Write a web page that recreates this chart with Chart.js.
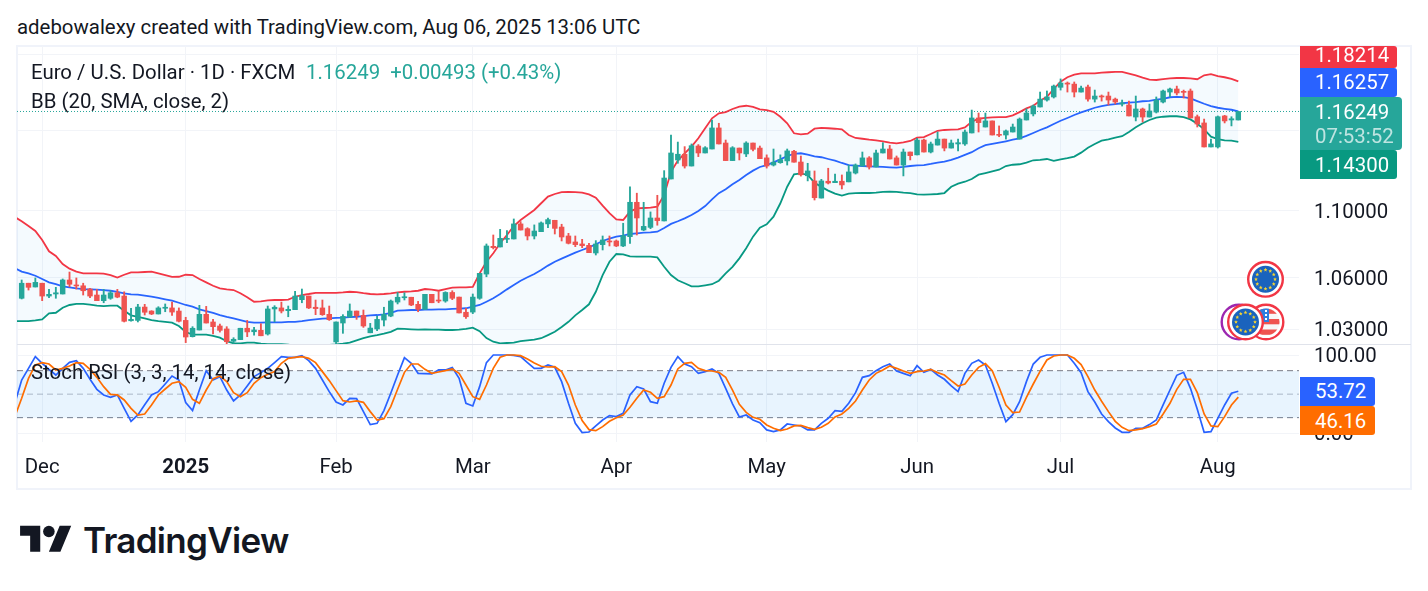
<!DOCTYPE html>
<html>
<head>
<meta charset="utf-8">
<title>EUR/USD daily</title>
<style>
    html, body { margin: 0; padding: 0; background: #ffffff; width: 1428px; height: 591px; overflow: hidden; }
    body { font-family: Roboto, sans-serif; color: #131722; position: relative; }
    canvas { position: absolute; left: 17px; }
    #priceChart { top: 46px; }
    #stochChart { top: 345px; }
    .abs { position: absolute; white-space: pre; }
    #caption { left: 17px; top: 14px; font-size: 20.4px; line-height: 26px; color: #131722; }
    #frame { left: 16px; top: 45px; width: 1392px; height: 441px; border: 2px solid #f0f3fa; }
    #paneLine { left: 17px; top: 344px; width: 1394px; height: 1px; background: #e0e3eb; }
    .legend { font-size: 20.4px; line-height: 24px; color: #131722; left: 31px; }
    #legendUp { left: 306px; top: 60px; color: #26a69a; }
    .tag { left: 1300px; width: 97px; color: #ffffff; font-size: 20.4px; text-align: left; padding-left: 15px; box-sizing: border-box; border-radius: 0 3px 3px 0; }
    #logoMark { position: absolute; left: 20px; top: 520px; }
    #logoText { left: 83px; top: 516px; font-family: Inter, sans-serif; font-weight: 600; font-size: 35px; line-height: 48px; color: #131722; letter-spacing: -0.7px; }
</style>
</head>
<body>
<div id="frame" class="abs"></div>
<canvas id="priceChart" width="1394" height="298"></canvas>
<canvas id="stochChart" width="1394" height="144"></canvas>
<div id="paneLine" class="abs"></div>

<div id="caption" class="abs">adebowalexy created with TradingView.com, Aug 06, 2025 13:06 UTC</div>
<div class="abs legend" style="top:60px">Euro / U.S. Dollar · 1D · FXCM</div>
<div id="legendUp" class="abs legend"></div>
<div class="abs legend" style="top:89px">BB (20, SMA, close, 2)</div>
<div class="abs legend" style="top:360px">Stoch RSI (3, 3, 14, 14, close)</div>

<div id="tagUpper" class="abs tag" style="top:46px;height:22px;line-height:18px;background:#f23645"></div>
<div id="tagMiddle" class="abs tag" style="top:68px;height:29px;line-height:29px;background:#2962ff"></div>
<div id="tagLast" class="abs tag" style="top:97px;height:53px;width:102px;line-height:24px;padding-top:3px;background:#26a69a;border-radius:0 4px 4px 0"></div>
<div id="tagLower" class="abs tag" style="top:150px;height:29px;line-height:30px;background:#089981"></div>
<div id="tagK" class="abs tag" style="top:377px;height:29px;line-height:29px;width:75px;background:#2962ff"></div>
<div id="tagD" class="abs tag" style="top:406px;height:29px;line-height:30px;width:75px;background:#ff6d00"></div>

<svg id="logoMark" width="52" height="36" viewBox="0 0 36 25">
    <path fill="#131722" d="M14 22H7V11H0V4h14v18zM28 22h-8l7.5-18h8L28 22z"></path>
    <circle fill="#131722" cx="20" cy="8" r="4"></circle>
</svg>
<div id="logoText" class="abs">TradingView</div>

<script src="https://cdn.jsdelivr.net/npm/chart.js@4/dist/chart.umd.min.js"></script>
<script>
// candles, one per trading day, oldest first
const opens = [
    1.0479, 1.0567, 1.0545, 1.0567, 1.0492, 1.0504, 1.0504, 1.0586, 1.0556, 1.0552,
    1.0533, 1.0498, 1.0465, 1.0479, 1.0511, 1.0492, 1.0349, 1.0351, 1.0428, 1.0405,
    1.0388, 1.0421, 1.0423, 1.0405, 1.0351, 1.0258, 1.0296, 1.0386, 1.0342, 1.0319,
    1.0302, 1.0232, 1.0241, 1.0306, 1.0286, 1.0294, 1.0273, 1.0417, 1.0423, 1.0407,
    1.0413, 1.0471, 1.0492, 1.0427, 1.0423, 1.0386, 1.0228, 1.0336, 1.0370, 1.0405,
    1.0380, 1.0280, 1.0302, 1.0353, 1.0376, 1.0457, 1.0482, 1.0485, 1.0444, 1.0415,
    1.0502, 1.0467, 1.0463, 1.0513, 1.0486, 1.0398, 1.0399, 1.0479, 1.0621, 1.0786,
    1.0782, 1.0828, 1.0830, 1.0921, 1.0892, 1.0848, 1.0874, 1.0921, 1.0943, 1.0902,
    1.0848, 1.0812, 1.0800, 1.0792, 1.0746, 1.0796, 1.0818, 1.0818, 1.0788, 1.0844,
    1.1053, 1.0884, 1.0900, 1.0957, 1.0939, 1.1197, 1.1316, 1.1352, 1.1278, 1.1404,
    1.1360, 1.1385, 1.1519, 1.1423, 1.1312, 1.1391, 1.1354, 1.1423, 1.1391, 1.1329,
    1.1284, 1.1299, 1.1310, 1.1371, 1.1303, 1.1217, 1.1185, 1.1079, 1.1183, 1.1174,
    1.1183, 1.1179, 1.1234, 1.1278, 1.1329, 1.1272, 1.1360, 1.1385, 1.1329, 1.1284,
    1.1366, 1.1348, 1.1442, 1.1366, 1.1410, 1.1448, 1.1391, 1.1417, 1.1417, 1.1487,
    1.1583, 1.1525, 1.1564, 1.1476, 1.1474, 1.1493, 1.1448, 1.1570, 1.1609, 1.1654,
    1.1699, 1.1719, 1.1782, 1.1810, 1.1803, 1.1751, 1.1784, 1.1705, 1.1725, 1.1725,
    1.1705, 1.1673, 1.1667, 1.1589, 1.1641, 1.1589, 1.1621, 1.1686, 1.1751, 1.1771,
    1.1753, 1.1758, 1.1591, 1.1551, 1.1398, 1.1398, 1.1596, 1.1570, 1.1570
];
const highs = [
    1.0586, 1.0567, 1.0598, 1.0567, 1.0531, 1.0543, 1.0592, 1.0633, 1.0598, 1.0567,
    1.0537, 1.0531, 1.0531, 1.0523, 1.0531, 1.0517, 1.0421, 1.0444, 1.0444, 1.0407,
    1.0430, 1.0446, 1.0457, 1.0423, 1.0369, 1.0315, 1.0438, 1.0432, 1.0357, 1.0330,
    1.0315, 1.0252, 1.0306, 1.0351, 1.0311, 1.0332, 1.0434, 1.0436, 1.0457, 1.0434,
    1.0519, 1.0533, 1.0492, 1.0469, 1.0469, 1.0434, 1.0342, 1.0384, 1.0446, 1.0405,
    1.0411, 1.0334, 1.0376, 1.0427, 1.0469, 1.0513, 1.0511, 1.0485, 1.0461, 1.0502,
    1.0502, 1.0519, 1.0517, 1.0523, 1.0486, 1.0421, 1.0504, 1.0625, 1.0800, 1.0854,
    1.0888, 1.0880, 1.0951, 1.0935, 1.0898, 1.0915, 1.0933, 1.0957, 1.0943, 1.0919,
    1.0864, 1.0848, 1.0828, 1.0804, 1.0820, 1.0848, 1.0848, 1.0824, 1.0925, 1.1149,
    1.1109, 1.1053, 1.0994, 1.1096, 1.1249, 1.1474, 1.1429, 1.1400, 1.1417, 1.1413,
    1.1400, 1.1570, 1.1549, 1.1442, 1.1400, 1.1391, 1.1431, 1.1423, 1.1404, 1.1348,
    1.1385, 1.1348, 1.1385, 1.1377, 1.1341, 1.1295, 1.1247, 1.1195, 1.1264, 1.1228,
    1.1222, 1.1284, 1.1291, 1.1366, 1.1337, 1.1379, 1.1425, 1.1408, 1.1341, 1.1385,
    1.1366, 1.1453, 1.1448, 1.1429, 1.1493, 1.1448, 1.1442, 1.1448, 1.1506, 1.1634,
    1.1615, 1.1615, 1.1564, 1.1532, 1.1506, 1.1544, 1.1583, 1.1642, 1.1667, 1.1751,
    1.1758, 1.1797, 1.1837, 1.1817, 1.1817, 1.1790, 1.1797, 1.1764, 1.1732, 1.1751,
    1.1712, 1.1699, 1.1692, 1.1725, 1.1647, 1.1673, 1.1719, 1.1764, 1.1777, 1.1790,
    1.1764, 1.1771, 1.1602, 1.1576, 1.1448, 1.1596, 1.1600, 1.1591, 1.1625
];
const lows = [
    1.0475, 1.0527, 1.0545, 1.0465, 1.0482, 1.0479, 1.0504, 1.0546, 1.0533, 1.0498,
    1.0482, 1.0465, 1.0453, 1.0473, 1.0482, 1.0342, 1.0346, 1.0342, 1.0382, 1.0384,
    1.0388, 1.0401, 1.0380, 1.0342, 1.0224, 1.0256, 1.0296, 1.0336, 1.0273, 1.0284,
    1.0216, 1.0220, 1.0241, 1.0258, 1.0266, 1.0263, 1.0267, 1.0343, 1.0394, 1.0372,
    1.0413, 1.0453, 1.0419, 1.0384, 1.0380, 1.0351, 1.0216, 1.0277, 1.0370, 1.0357,
    1.0311, 1.0280, 1.0292, 1.0319, 1.0372, 1.0446, 1.0469, 1.0436, 1.0401, 1.0415,
    1.0453, 1.0453, 1.0456, 1.0471, 1.0394, 1.0363, 1.0390, 1.0473, 1.0605, 1.0770,
    1.0782, 1.0808, 1.0830, 1.0884, 1.0824, 1.0830, 1.0874, 1.0898, 1.0860, 1.0818,
    1.0800, 1.0784, 1.0778, 1.0748, 1.0734, 1.0764, 1.0788, 1.0784, 1.0784, 1.0804,
    1.0854, 1.0880, 1.0892, 1.0913, 1.0939, 1.1197, 1.1295, 1.1265, 1.1278, 1.1337,
    1.1360, 1.1385, 1.1417, 1.1312, 1.1312, 1.1316, 1.1337, 1.1373, 1.1324, 1.1265,
    1.1278, 1.1295, 1.1284, 1.1302, 1.1215, 1.1185, 1.1067, 1.1079, 1.1166, 1.1174,
    1.1135, 1.1179, 1.1228, 1.1278, 1.1259, 1.1272, 1.1360, 1.1322, 1.1284, 1.1216,
    1.1316, 1.1348, 1.1366, 1.1360, 1.1410, 1.1373, 1.1391, 1.1373, 1.1408, 1.1487,
    1.1493, 1.1525, 1.1474, 1.1463, 1.1448, 1.1493, 1.1448, 1.1570, 1.1596, 1.1654,
    1.1692, 1.1712, 1.1764, 1.1751, 1.1719, 1.1751, 1.1692, 1.1686, 1.1692, 1.1667,
    1.1673, 1.1660, 1.1596, 1.1564, 1.1557, 1.1589, 1.1615, 1.1680, 1.1719, 1.1732,
    1.1712, 1.1583, 1.1525, 1.1398, 1.1398, 1.1391, 1.1551, 1.1532, 1.1570
];
const closes = [
    1.0567, 1.0543, 1.0572, 1.0492, 1.0502, 1.0511, 1.0586, 1.0561, 1.0551, 1.0523,
    1.0492, 1.0465, 1.0498, 1.0511, 1.0486, 1.0346, 1.0357, 1.0428, 1.0398, 1.0388,
    1.0423, 1.0427, 1.0399, 1.0346, 1.0256, 1.0306, 1.0386, 1.0336, 1.0315, 1.0294,
    1.0229, 1.0243, 1.0306, 1.0285, 1.0296, 1.0263, 1.0417, 1.0427, 1.0405, 1.0415,
    1.0492, 1.0494, 1.0423, 1.0419, 1.0384, 1.0355, 1.0342, 1.0374, 1.0405, 1.0378,
    1.0319, 1.0307, 1.0357, 1.0386, 1.0463, 1.0485, 1.0488, 1.0440, 1.0415, 1.0502,
    1.0453, 1.0463, 1.0513, 1.0479, 1.0394, 1.0372, 1.0486, 1.0625, 1.0788, 1.0778,
    1.0834, 1.0834, 1.0921, 1.0884, 1.0848, 1.0878, 1.0927, 1.0947, 1.0894, 1.0842,
    1.0804, 1.0796, 1.0790, 1.0748, 1.0800, 1.0824, 1.0812, 1.0788, 1.0850, 1.1053,
    1.0957, 1.0906, 1.0957, 1.0941, 1.1203, 1.1360, 1.1352, 1.1278, 1.1406, 1.1360,
    1.1393, 1.1519, 1.1417, 1.1312, 1.1393, 1.1360, 1.1423, 1.1383, 1.1324, 1.1278,
    1.1302, 1.1318, 1.1373, 1.1302, 1.1223, 1.1247, 1.1081, 1.1185, 1.1172, 1.1183,
    1.1160, 1.1241, 1.1284, 1.1329, 1.1272, 1.1360, 1.1385, 1.1322, 1.1284, 1.1366,
    1.1343, 1.1442, 1.1366, 1.1417, 1.1448, 1.1391, 1.1423, 1.1425, 1.1493, 1.1583,
    1.1553, 1.1564, 1.1474, 1.1472, 1.1500, 1.1525, 1.1576, 1.1615, 1.1660, 1.1705,
    1.1719, 1.1790, 1.1810, 1.1803, 1.1751, 1.1777, 1.1705, 1.1725, 1.1719, 1.1699,
    1.1686, 1.1680, 1.1596, 1.1641, 1.1589, 1.1628, 1.1699, 1.1758, 1.1771, 1.1745,
    1.1749, 1.1583, 1.1544, 1.1398, 1.1417, 1.1591, 1.1564, 1.1578, 1.16249
];

// indicator series start one bar earlier than the candles
const bbUpper = [
    1.0963,
    1.0937, 1.0908, 1.0878, 1.0824, 1.0756, 1.0728, 1.0680, 1.0653, 1.0635, 1.0625,
    1.0625, 1.0625, 1.0623, 1.0614, 1.0600, 1.0617, 1.0631, 1.0631, 1.0633, 1.0635,
    1.0625, 1.0615, 1.0604, 1.0605, 1.0617, 1.0615, 1.0592, 1.0572, 1.0552, 1.0537,
    1.0531, 1.0527, 1.0508, 1.0485, 1.0459, 1.0461, 1.0467, 1.0469, 1.0469, 1.0471,
    1.0488, 1.0498, 1.0504, 1.0511, 1.0511, 1.0511, 1.0511, 1.0513, 1.0517, 1.0515,
    1.0509, 1.0504, 1.0502, 1.0504, 1.0508, 1.0513, 1.0517, 1.0519, 1.0523, 1.0533,
    1.0529, 1.0523, 1.0533, 1.0541, 1.0543, 1.0543, 1.0546, 1.0625, 1.0694, 1.0744,
    1.0804, 1.0854, 1.0908, 1.0945, 1.0975, 1.1006, 1.1047, 1.1088, 1.1104, 1.1115,
    1.1117, 1.1115, 1.1112, 1.1102, 1.1081, 1.1032, 1.0986, 1.0949, 1.0945, 1.0996,
    1.1016, 1.1018, 1.1020, 1.1026, 1.1098, 1.1242, 1.1312, 1.1358, 1.1400, 1.1453,
    1.1517, 1.1581, 1.1613, 1.1621, 1.1641, 1.1656, 1.1662, 1.1654, 1.1639, 1.1634,
    1.1623, 1.1591, 1.1549, 1.1485, 1.1478, 1.1482, 1.1514, 1.1519, 1.1517, 1.1514,
    1.1510, 1.1474, 1.1455, 1.1450, 1.1444, 1.1440, 1.1434, 1.1425, 1.1421, 1.1427,
    1.1436, 1.1457, 1.1461, 1.1480, 1.1501, 1.1506, 1.1508, 1.1510, 1.1523, 1.1559,
    1.1578, 1.1583, 1.1587, 1.1589, 1.1589, 1.1600, 1.1621, 1.1645, 1.1662, 1.1694,
    1.1720, 1.1771, 1.1819, 1.1848, 1.1865, 1.1874, 1.1874, 1.1874, 1.1878, 1.1881,
    1.1883, 1.1883, 1.1872, 1.1861, 1.1845, 1.1832, 1.1830, 1.1835, 1.1841, 1.1843,
    1.1843, 1.1841, 1.1835, 1.1861, 1.1868, 1.1855, 1.1848, 1.1837, 1.18214
];
const bbMiddle = [
    1.0655,
    1.0635, 1.0625, 1.0611, 1.0592, 1.0572, 1.0562, 1.0549, 1.0543, 1.0537, 1.0533,
    1.0531, 1.0529, 1.0527, 1.0523, 1.0517, 1.0508, 1.0502, 1.0500, 1.0494, 1.0488,
    1.0481, 1.0473, 1.0465, 1.0453, 1.0440, 1.0430, 1.0415, 1.0405, 1.0394, 1.0382,
    1.0372, 1.0363, 1.0353, 1.0343, 1.0338, 1.0338, 1.0340, 1.0340, 1.0340, 1.0342,
    1.0343, 1.0347, 1.0353, 1.0357, 1.0361, 1.0363, 1.0365, 1.0367, 1.0370, 1.0372,
    1.0376, 1.0380, 1.0382, 1.0386, 1.0395, 1.0407, 1.0409, 1.0411, 1.0411, 1.0413,
    1.0413, 1.0415, 1.0415, 1.0417, 1.0419, 1.0421, 1.0430, 1.0440, 1.0459, 1.0479,
    1.0504, 1.0531, 1.0556, 1.0582, 1.0602, 1.0621, 1.0645, 1.0671, 1.0694, 1.0712,
    1.0730, 1.0748, 1.0764, 1.0780, 1.0798, 1.0818, 1.0832, 1.0844, 1.0850, 1.0860,
    1.0864, 1.0868, 1.0870, 1.0874, 1.0896, 1.0921, 1.0937, 1.0955, 1.0975, 1.1000,
    1.1030, 1.1071, 1.1109, 1.1133, 1.1164, 1.1191, 1.1222, 1.1249, 1.1272, 1.1284,
    1.1301, 1.1320, 1.1341, 1.1354, 1.1358, 1.1349, 1.1339, 1.1333, 1.1322, 1.1312,
    1.1297, 1.1284, 1.1280, 1.1278, 1.1276, 1.1274, 1.1272, 1.1270, 1.1268, 1.1272,
    1.1278, 1.1282, 1.1284, 1.1291, 1.1299, 1.1305, 1.1316, 1.1331, 1.1348, 1.1365,
    1.1390, 1.1409, 1.1417, 1.1425, 1.1434, 1.1444, 1.1453, 1.1468, 1.1487, 1.1506,
    1.1523, 1.1544, 1.1565, 1.1583, 1.1602, 1.1619, 1.1634, 1.1649, 1.1660, 1.1667,
    1.1673, 1.1678, 1.1682, 1.1686, 1.1691, 1.1694, 1.1701, 1.1707, 1.1717, 1.1720,
    1.1718, 1.1710, 1.1692, 1.1675, 1.1660, 1.1649, 1.1642, 1.1636, 1.16257
];
const bbLower = [
    1.0347,
    1.0347, 1.0347, 1.0351, 1.0357, 1.0392, 1.0395, 1.0424, 1.0440, 1.0447, 1.0447,
    1.0442, 1.0436, 1.0434, 1.0436, 1.0436, 1.0407, 1.0380, 1.0372, 1.0363, 1.0353,
    1.0347, 1.0343, 1.0338, 1.0319, 1.0285, 1.0269, 1.0269, 1.0269, 1.0262, 1.0252,
    1.0232, 1.0220, 1.0220, 1.0224, 1.0224, 1.0218, 1.0216, 1.0216, 1.0216, 1.0212,
    1.0208, 1.0205, 1.0205, 1.0208, 1.0209, 1.0211, 1.0214, 1.0218, 1.0224, 1.0237,
    1.0249, 1.0260, 1.0267, 1.0275, 1.0285, 1.0303, 1.0302, 1.0300, 1.0298, 1.0300,
    1.0298, 1.0298, 1.0296, 1.0296, 1.0298, 1.0303, 1.0309, 1.0289, 1.0250, 1.0229,
    1.0220, 1.0222, 1.0224, 1.0232, 1.0237, 1.0241, 1.0249, 1.0267, 1.0286, 1.0313,
    1.0343, 1.0380, 1.0411, 1.0444, 1.0517, 1.0615, 1.0694, 1.0740, 1.0738, 1.0726,
    1.0724, 1.0724, 1.0724, 1.0720, 1.0664, 1.0615, 1.0584, 1.0567, 1.0549, 1.0549,
    1.0555, 1.0561, 1.0582, 1.0625, 1.0664, 1.0714, 1.0774, 1.0844, 1.0898, 1.0919,
    1.0965, 1.1047, 1.1149, 1.1226, 1.1232, 1.1222, 1.1174, 1.1148, 1.1125, 1.1106,
    1.1094, 1.1106, 1.1109, 1.1110, 1.1110, 1.1112, 1.1117, 1.1119, 1.1117, 1.1112,
    1.1109, 1.1102, 1.1100, 1.1102, 1.1104, 1.1110, 1.1149, 1.1168, 1.1180, 1.1197,
    1.1224, 1.1234, 1.1245, 1.1255, 1.1278, 1.1286, 1.1289, 1.1299, 1.1314, 1.1316,
    1.1322, 1.1310, 1.1320, 1.1327, 1.1337, 1.1362, 1.1393, 1.1417, 1.1438, 1.1446,
    1.1457, 1.1466, 1.1493, 1.1523, 1.1549, 1.1570, 1.1585, 1.1591, 1.1594, 1.1594,
    1.1589, 1.1574, 1.1546, 1.1510, 1.1463, 1.1448, 1.1440, 1.1438, 1.14300
];
const stochK = [
    38.3,
    68.1, 83.0, 97.9, 89.4, 81.7, 74.5, 83.0, 90.7, 92.8, 83.0,
    69.0, 56.2, 49.0, 46.0, 49.0, 31.9, 15.3, 23.4, 36.6, 49.0,
    53.2, 63.0, 73.2, 68.1, 39.2, 29.0, 55.3, 80.0, 68.1, 72.4,
    55.3, 41.3, 49.0, 60.5, 72.4, 77.5, 83.0, 90.3, 97.9, 97.1,
    97.1, 99.2, 92.8, 83.0, 68.1, 53.2, 40.0, 36.2, 44.7, 44.3,
    27.7, 11.1, 12.8, 29.0, 51.1, 74.5, 96.6, 89.4, 76.6, 76.2,
    75.8, 80.9, 80.9, 83.9, 70.2, 38.3, 34.9, 59.6, 90.3, 100,
    100, 100, 99.6, 97.9, 90.3, 83.0, 83.0, 87.3, 84.3, 66.0,
    38.3, 12.8, 0.9, 1.7, 9.4, 17.0, 22.6, 21.3, 25.5, 49.0,
    59.6, 56.6, 40.4, 38.3, 63.9, 84.3, 97.9, 88.5, 85.1, 76.6,
    78.8, 82.2, 76.6, 57.5, 37.5, 20.9, 23.4, 17.0, 13.6, 4.3,
    2.1, 4.3, 11.9, 10.6, 9.4, 4.3, 4.3, 12.8, 19.2, 29.0,
    28.1, 38.3, 51.9, 71.5, 73.6, 80.0, 85.1, 88.5, 79.6, 76.6,
    73.6, 86.4, 77.9, 81.7, 74.5, 69.0, 60.5, 53.2, 76.6, 89.4,
    93.7, 87.3, 63.9, 38.3, 14.9, 23.8, 40.4, 66.0, 88.5, 97.1,
    100, 100, 100, 100, 89.4, 77.5, 53.2, 40.0, 24.7, 14.9,
    6.8, 1.3, 1.3, 6.4, 6.4, 11.1, 17.0, 36.2, 55.3, 74.1,
    77.9, 57.5, 30.7, 1.3, 2.1, 19.2, 36.2, 51.1, 53.72
];
const stochD = [
    21.3,
    44.7, 70.2, 87.3, 90.3, 88.5, 80.9, 83.0, 86.0, 90.3, 89.4,
    81.7, 71.5, 59.6, 49.8, 49.0, 42.6, 31.9, 23.4, 24.7, 36.2,
    49.0, 56.6, 63.9, 66.0, 58.8, 43.4, 38.3, 55.3, 69.8, 73.2,
    66.0, 51.9, 46.8, 51.9, 63.9, 71.1, 75.4, 78.8, 89.4, 95.8,
    97.1, 97.9, 95.8, 90.3, 78.8, 67.3, 54.5, 41.7, 40.0, 41.3,
    39.6, 27.7, 17.0, 18.7, 34.1, 56.2, 77.9, 88.5, 88.5, 81.7,
    76.6, 78.3, 80.0, 82.2, 76.6, 61.7, 46.8, 43.4, 61.7, 83.0,
    97.1, 100, 100, 99.2, 94.9, 89.8, 85.6, 84.7, 85.1, 78.8,
    61.7, 36.2, 16.2, 4.7, 3.4, 8.5, 15.3, 20.0, 23.4, 33.2,
    44.7, 55.3, 52.4, 44.7, 46.8, 61.7, 82.2, 89.4, 90.7, 83.0,
    80.0, 79.6, 77.9, 71.5, 55.3, 37.0, 26.8, 20.4, 17.9, 10.6,
    6.4, 3.4, 5.5, 9.4, 10.2, 7.2, 5.1, 7.7, 12.8, 20.9,
    24.7, 31.9, 41.3, 55.3, 68.1, 76.6, 80.9, 86.0, 83.0, 79.6,
    76.6, 78.8, 79.6, 81.7, 77.5, 74.5, 67.3, 60.5, 63.0, 74.5,
    84.3, 89.0, 80.0, 58.8, 36.2, 26.4, 27.2, 46.0, 63.0, 79.2,
    93.7, 98.8, 100, 100, 95.8, 87.7, 72.4, 55.3, 40.9, 27.7,
    15.3, 7.7, 3.4, 4.3, 5.9, 8.5, 11.9, 24.7, 38.3, 56.2,
    69.0, 69.0, 51.9, 24.7, 9.4, 8.5, 21.3, 36.2, 46.16
];

// month ticks, given as candle numbers
const monthBars = [3, 24, 46, 66, 87, 109, 131, 152, 175];
const monthLabels = ['Dec', '2025', 'Feb', 'Mar', 'Apr', 'May', 'Jun', 'Jul', 'Aug'];
const priceTicks = [1.03, 1.06, 1.10, 1.15, 1.20];
const stochTicks = [0, 100];
const stochLevels = [80, 50, 20];
const dayChange = 0.00493;
const dayChangePct = 0.43;

const GREEN = '#26a69a';
const RED = '#ef5350';
const GRID = '#f2f4f8';
const FONT = 'Roboto, sans-serif';
const LABEL_SIZE = 20.4;

// visible range in bars, same for both panes
const X_MIN = -0.683;
const X_MAX = 186.88;

const lastClose = closes[closes.length - 1];

function candleColor(ctx) {
    return closes[ctx.dataIndex] >= opens[ctx.dataIndex] ? GREEN : RED;
}

function lineSeries(values) {
    return values.map((v, i) => ({ x: i - 1, y: v }));
}

// chart.js reserves room for half a label plus the padding, the panes here run edge to edge
function noOverflow(s) {
    s.paddingTop = 0;
    s.paddingBottom = 0;
    s.paddingLeft = 0;
    s.paddingRight = 0;
}

function xScale(height, ticks) {
    return {
        type: 'linear',
        min: X_MIN,
        max: X_MAX,
        offset: false,
        bounds: 'data',
        afterBuildTicks: (s) => { s.ticks = monthBars.map((v) => ({ value: v })); },
        afterFit: (s) => { s.height = height; noOverflow(s); },
        grid: { color: GRID, drawTicks: false, offset: false },
        border: { display: false },
        ticks: ticks
    };
}

function bandLine(label, values, color, extra) {
    return Object.assign({
        type: 'line',
        label: label,
        data: lineSeries(values),
        borderColor: color,
        borderWidth: 1.8,
        pointRadius: 0,
        tension: 0,
        order: 3
    }, extra);
}

function levelLine(label, value, color, extra) {
    return Object.assign({
        label: label,
        data: [{ x: X_MIN, y: value }, { x: X_MAX, y: value }],
        borderColor: color,
        borderWidth: 1,
        borderDash: [6, 4],
        pointRadius: 0,
        order: 4
    }, extra);
}

// small round currency badges in the corner of the price pane
function drawStar(ctx, x, y, r) {
    ctx.beginPath();
    for (let i = 0; i < 10; i++) {
        const a = -Math.PI / 2 + i * Math.PI / 5;
        const d = i % 2 ? r * 0.45 : r;
        ctx.lineTo(x + Math.cos(a) * d, y + Math.sin(a) * d);
    }
    ctx.closePath();
    ctx.fill();
}

function drawRing(ctx, x, y, color) {
    ctx.beginPath();
    ctx.arc(x, y, 17.3, 0, Math.PI * 2);
    ctx.fillStyle = '#ffffff';
    ctx.fill();
    ctx.lineWidth = 2.4;
    ctx.strokeStyle = color;
    ctx.stroke();
}

function drawEuro(ctx, x, y) {
    drawRing(ctx, x, y, '#f23645');
    ctx.beginPath();
    ctx.arc(x, y, 13.5, 0, Math.PI * 2);
    ctx.fillStyle = '#1a63bd';
    ctx.fill();
    ctx.fillStyle = '#f5d432';
    for (let i = 0; i < 12; i++) {
        const a = i * Math.PI / 6;
        drawStar(ctx, x + Math.cos(a) * 9.5, y + Math.sin(a) * 9.5, 2);
    }
}

function drawDollar(ctx, x, y) {
    drawRing(ctx, x, y, '#f23645');
    ctx.save();
    ctx.beginPath();
    ctx.arc(x, y, 13.5, 0, Math.PI * 2);
    ctx.clip();
    ctx.fillStyle = '#f7f7f7';
    ctx.fillRect(x - 14, y - 14, 28, 28);
    ctx.fillStyle = '#ef5350';
    for (let i = 0; i < 3; i++) {
        ctx.fillRect(x - 14, y - 13.5 + i * 10.5, 28, 5.3);
    }
    ctx.fillStyle = '#2f7fe0';
    ctx.fillRect(x - 14, y - 14, 17, 14);
    ctx.fillStyle = '#ffffff';
    for (let i = 0; i < 3; i++) {
        ctx.fillRect(x - 1, y - 12 + i * 4, 2, 2);
    }
    ctx.restore();
}

const currencyBadges = {
    id: 'currencyBadges',
    afterDatasetsDraw(chart) {
        const ctx = chart.ctx;
        ctx.save();
        ctx.translate(-chart.canvas.offsetLeft, -chart.canvas.offsetTop);
        drawEuro(ctx, 1265.5, 279.3);
        drawDollar(ctx, 1266, 322);
        drawRing(ctx, 1239, 322, '#9c27b0');
        drawEuro(ctx, 1245.5, 322);
        ctx.restore();
    }
};

new Chart(document.getElementById('priceChart'), {
    type: 'bar',
    plugins: [currencyBadges],
    data: {
        datasets: [
            levelLine('Last price', lastClose, GREEN, { type: 'line', borderDash: [1, 2] }),
            bandLine('BB upper', bbUpper, '#f23645', {
                fill: { target: 2 },
                backgroundColor: 'rgba(33, 150, 243, 0.05)'
            }),
            bandLine('BB lower', bbLower, '#089981'),
            bandLine('BB basis', bbMiddle, '#2962ff'),
            {
                label: 'Wicks',
                data: lows.map((v, i) => ({ x: i, y: [v, highs[i]] })),
                backgroundColor: candleColor,
                barThickness: 1.2,
                grouped: false,
                order: 2
            },
            {
                label: 'Bodies',
                data: opens.map((v, i) => ({ x: i, y: [v, closes[i]] })),
                backgroundColor: candleColor,
                barThickness: 4.8,
                minBarLength: 1,
                grouped: false,
                order: 1
            }
        ]
    },
    options: {
        responsive: false,
        animation: false,
        events: [],
        layout: { padding: 0 },
        plugins: { legend: { display: false }, tooltip: { enabled: false } },
        scales: {
            x: xScale(0, { display: false }),
            y: {
                type: 'logarithmic',
                position: 'right',
                min: 1.02162,
                max: 1.20555,
                afterBuildTicks: (s) => { s.ticks = priceTicks.map((v) => ({ value: v })); },
                afterFit: (s) => { s.width = 112; noOverflow(s); },
                grid: { color: GRID, drawTicks: false },
                border: { display: false },
                ticks: {
                    autoSkip: false,
                    padding: 15,
                    labelOffset: 2,
                    color: '#131722',
                    font: { family: FONT, size: LABEL_SIZE },
                    callback: (v) => Number(v).toFixed(5)
                }
            }
        }
    }
});

new Chart(document.getElementById('stochChart'), {
    type: 'line',
    data: {
        datasets: [
            levelLine('Upper level', stochLevels[0], '#787b86', {
                fill: { target: 2 },
                backgroundColor: 'rgba(33, 150, 243, 0.1)'
            }),
            levelLine('Middle level', stochLevels[1], 'rgba(120, 123, 134, 0.5)'),
            levelLine('Lower level', stochLevels[2], '#787b86'),
            bandLine('%K', stochK, '#2962ff', { order: 2, borderWidth: 1.7 }),
            bandLine('%D', stochD, '#ff6d00', { order: 1, borderWidth: 1.7 })
        ]
    },
    options: {
        responsive: false,
        animation: false,
        events: [],
        layout: { padding: 0 },
        plugins: { legend: { display: false }, tooltip: { enabled: false } },
        scales: {
            x: xScale(47, {
                autoSkip: false,
                maxRotation: 0,
                padding: 14,
                color: '#131722',
                font: (ctx) => ({
                    family: FONT,
                    size: LABEL_SIZE,
                    weight: ctx.tick && ctx.tick.value === monthBars[1] ? 'bold' : 'normal'
                }),
                callback: (v) => monthLabels[monthBars.indexOf(v)]
            }),
            y: {
                type: 'linear',
                position: 'right',
                min: -11.1,
                max: 112.8,
                afterBuildTicks: (s) => { s.ticks = stochTicks.map((v) => ({ value: v })); },
                afterFit: (s) => { s.width = 112; noOverflow(s); },
                grid: { color: GRID, drawTicks: false },
                border: { display: false },
                ticks: {
                    padding: 15,
                    labelOffset: 2,
                    color: '#131722',
                    font: { family: FONT, size: LABEL_SIZE },
                    callback: (v) => Number(v).toFixed(2)
                }
            }
        }
    }
});

// header and price tags follow the last values of each series
document.getElementById('legendUp').textContent =
    lastClose.toFixed(5) + '  +' + dayChange.toFixed(5) + ' (+' + dayChangePct.toFixed(2) + '%)';
document.getElementById('tagUpper').textContent = bbUpper[bbUpper.length - 1].toFixed(5);
document.getElementById('tagMiddle').textContent = bbMiddle[bbMiddle.length - 1].toFixed(5);
document.getElementById('tagLower').textContent = bbLower[bbLower.length - 1].toFixed(5);
document.getElementById('tagK').textContent = stochK[stochK.length - 1].toFixed(2);
document.getElementById('tagD').textContent = stochD[stochD.length - 1].toFixed(2);
document.getElementById('tagLast').innerHTML =
    lastClose.toFixed(5) + '<br><span style="color:rgba(255,255,255,0.7)">07:53:52</span>';
</script>
</body>
</html>
